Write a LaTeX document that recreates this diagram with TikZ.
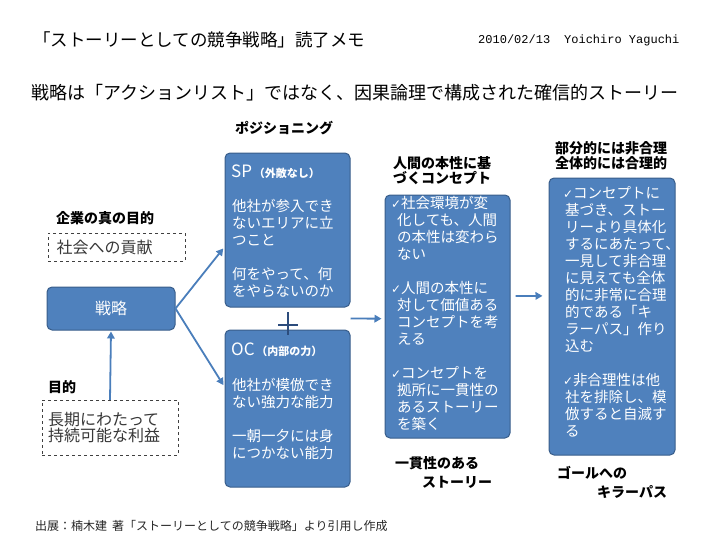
\documentclass[tikz,border=0pt]{standalone}
\usepackage{fontspec}
\setmainfont{Noto Sans CJK JP}
\newfontfamily\symfont{DejaVu Sans}
\newfontfamily\datefont{Liberation Mono}
\usetikzlibrary{arrows.meta, positioning, calc}
\definecolor{boxblue}{RGB}{79, 129, 189}
\definecolor{boxedge}{RGB}{56, 93, 138}
\definecolor{arrblue}{RGB}{74, 126, 187}
\definecolor{plusblue}{RGB}{44, 76, 124}
\definecolor{txtgray}{RGB}{55, 55, 55}
\newcommand{\ck}{\makebox[10pt][l]{\symfont\fontsize{12}{12}\selectfont ✓}}

\begin{document}
\begin{tikzpicture}[x=1pt, y=-1pt,
    bluebox/.style={draw=boxedge, fill=boxblue, rounded corners=5pt,
                    line width=1pt, inner sep=0pt},
    goalbox/.style={draw=black!75, dashed, inner ysep=0pt, align=left,
                    text=txtgray, font=\fontsize{16}{16.5}\selectfont},
    body/.style={anchor=north west, align=left, inner sep=0pt, text=white,
                 font=\fontsize{14.5}{17}\selectfont},
    head/.style={anchor=west, align=left, inner sep=0pt,
                 font=\bfseries\fontsize{14}{15.5}\selectfont},
    boxhd/.style={anchor=west, inner sep=0pt, text=white},
    arr/.style={-{Triangle[length=7pt, width=7.5pt]}, line width=1.8pt, arrblue},
  ]
  \useasboundingbox (0,0) rectangle (728,546);

  % heading lines
  \node[anchor=west, inner sep=0pt, font=\fontsize{17.5}{20}\selectfont] (title)
    at (33,40) {「ストーリーとしての競争戦略」読了メモ};
  \node[anchor=west, inner sep=0pt, font=\datefont\fontsize{12}{13}\selectfont] (date)
    at (478,40) {2010/02/13\hspace{14pt}Yoichiro Yaguchi};
  \node[anchor=west, inner sep=0pt, font=\fontsize{18}{20}\selectfont] (thesis)
    at (31,93) {戦略は「アクションリスト」ではなく、因果論理で構成された確信的ストーリー};

  % left column
  \node[head] (purposehd) at (56,218) {企業の真の目的};
  \node[goalbox, inner xsep=8.5pt, text width=120pt, minimum height=28pt] (society)
    at (116.5,247) {社会への貢献};
  \node[bluebox, minimum width=128pt, minimum height=43pt, text=white,
        font=\fontsize{16}{18}\selectfont] (strat) at (111,308.5) {戦略};
  \node[head] (aimhd) at (48,387) {目的};
  \node[goalbox, inner xsep=6pt, text width=124pt, minimum height=55pt] (profit)
    at (110,427.5) {長期にわたって\\持続可能な利益};

  % positioning boxes
  \node[head] (posnhd) at (235,128) {ポジショニング};
  \node[bluebox, minimum width=125pt, minimum height=154pt] (sp) at (287.5,230) {};
  \node[boxhd] (sphd) at (231,172)
    {{\fontsize{17}{18}\selectfont SP}\,{\bfseries\fontsize{11}{13}\selectfont （外敵なし）}};
  \node[body] (spbody) at (232,199)
    {他社が参入でき\\ないエリアに立\\つこと\\[17pt]何をやって、何\\をやらないのか};
  \node[bluebox, minimum width=125pt, minimum height=157pt] (oc) at (287.5,408.5) {};
  \node[boxhd] (ochd) at (231,350)
    {{\fontsize{17}{18}\selectfont OC}\,{\bfseries\fontsize{11}{13}\selectfont （内部の力）}};
  \node[body] (ocbody) at (232,378)
    {他社が模倣でき\\ない強力な能力\\[17pt]一朝一夕には身\\につかない能力};
  \draw[plusblue, line width=1.8pt] (278,325) -- (298,325) (288,312) -- (288,335);

  % concept box
  \node[head] (concepthd) at (393,170.5) {人間の本性に基\\づくコンセプト};
  \node[bluebox, minimum width=125pt, minimum height=243pt] (concept) at (447.5,316.5) {};
  \node[body] (conceptbody) at (391,196)
    {\ck 社会環境が変\\\hspace*{6pt}化しても、人間\\\hspace*{6pt}の本性は変わら\\\hspace*{6pt}ない\\[17pt]
     \ck 人間の本性に\\\hspace*{6pt}対して価値ある\\\hspace*{6pt}コンセプトを考\\\hspace*{6pt}える\\[17pt]
     \ck コンセプトを\\\hspace*{6pt}拠所に一貫性の\\\hspace*{6pt}あるストーリー\\\hspace*{6pt}を築く};
  \node[head, font=\bfseries\fontsize{14}{19}\selectfont] (storyhd) at (395,472.5)
    {一貫性のある\\\hspace*{27pt}ストーリー};

  % killer path box
  \node[head] (killerhd) at (555,155.5) {部分的には非合理\\全体的には合理的};
  \node[bluebox, minimum width=126pt, minimum height=277pt] (killer) at (612,316.5) {};
  \node[body] (killerbody) at (563,186)
    {\ck コンセプトに\\\hspace*{2pt}基づき、ストー\\\hspace*{2pt}リーより具体化\\\hspace*{2pt}するにあたって、\\
     \hspace*{2pt}一見して非合理\\\hspace*{2pt}に見えても全体\\\hspace*{2pt}的に非常に合理\\
     \hspace*{2pt}的である「キ\\\hspace*{2pt}ラーパス」作り\\\hspace*{2pt}込む\\[17pt]
     \ck 非合理性は他\\\hspace*{2pt}社を排除し、模\\\hspace*{2pt}倣すると自滅す\\\hspace*{2pt}る};
  \node[head, font=\bfseries\fontsize{14}{19}\selectfont] (goalhd) at (557,482.5)
    {ゴールへの\\\hspace*{40pt}キラーパス};

  % connectors
  \draw[arr, shorten >=1pt] (profit.north) -- (strat.south);
  \draw[arr, shorten >=2pt] (strat.east) -- (sp.195);
  \draw[arr, shorten >=2pt] (strat.east) -- (oc.161);
  \draw[arr, shorten >=3pt] ($(sp.south east)!.5!(oc.north east)$) -- (concept.182);
  \draw[arr, shorten <=5pt, shorten >=6pt] (concept.18) -- (killer.162);

  % source
  \node[anchor=west, inner sep=0pt, font=\fontsize{12}{13}\selectfont, text=black!85] (source)
    at (35,526) {出展：楠木建\hspace{5pt}著「ストーリーとしての競争戦略」より引用し作成};
\end{tikzpicture}
\end{document}
